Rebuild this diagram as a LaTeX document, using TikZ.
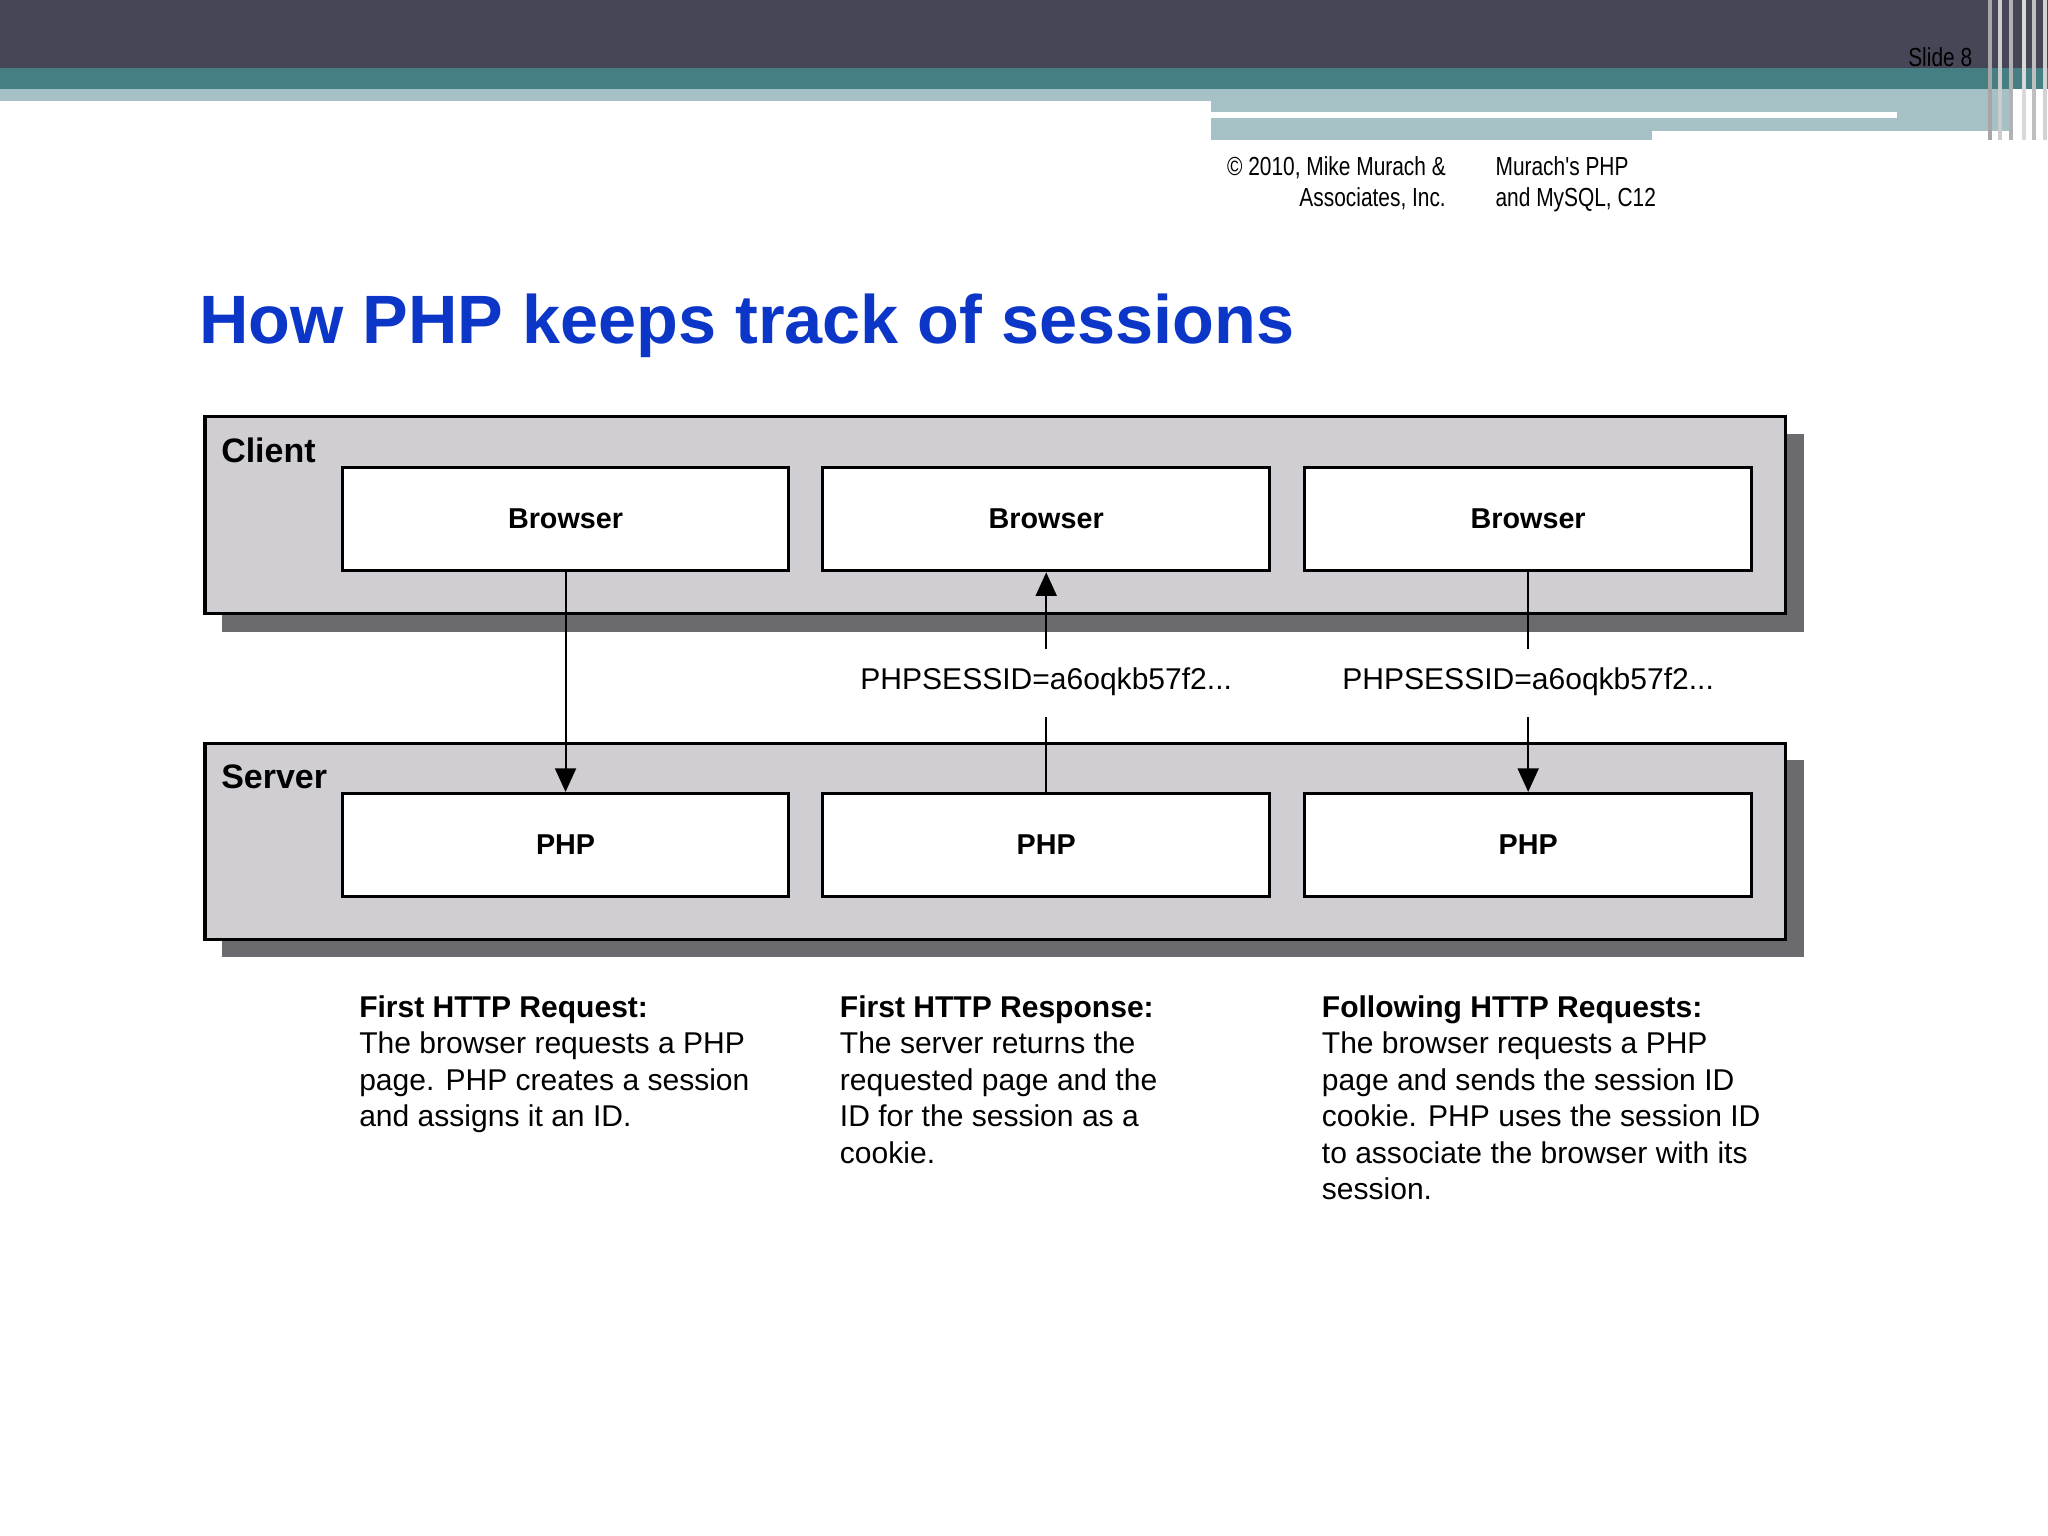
\documentclass[tikz,border=0pt]{standalone}
\usepackage{fontspec}
\setmainfont{Liberation Sans}
\newfontfamily\narrowf[FakeStretch=0.8]{Liberation Sans}
\usetikzlibrary{arrows.meta}
\definecolor{darkband}{HTML}{474657}
\definecolor{tealband}{HTML}{457F84}
\definecolor{lightband}{HTML}{A5C1C5}
\definecolor{panel}{HTML}{D0CED3}
\definecolor{shadowgray}{HTML}{6B6A6E}
\definecolor{titleblue}{HTML}{0B36C8}
\tikzset{
 panelbox/.style={draw=black,line width=1.2pt,fill=panel},
 wbox/.style={draw=black,line width=1.2pt,fill=white,minimum width=171pt,minimum height=39.5pt,font=\fontsize{11}{13}\selectfont\bfseries},
 conn/.style={line width=0.8pt},
 arr/.style={conn,-{Triangle[length=9pt,width=8pt]}},
 lab/.style={font=\fontsize{11.5}{13}\selectfont},
 desc/.style={anchor=north west,align=left,font=\fontsize{11.5}{14}\selectfont},
}
\begin{document}
\begin{tikzpicture}[x=0.5pt,y=-0.5pt]
\useasboundingbox (0,0) rectangle (1568,1176);
% header bands
\fill[darkband] (0,0) rectangle (1568,52);
\fill[tealband] (0,52) rectangle (1568,68);
\fill[lightband] (0,68) rectangle (927,77);
\fill[lightband] (927,68) rectangle (1540,107);
\fill[white] (927,86) rectangle (1452,90);
\fill[white] (1265,100) rectangle (1540,107);
\foreach \x/\c in {1522/gray!70,1530/gray!40,1538/gray!60,1548/gray!30,1556/gray!50,1564/gray!35}
  \fill[\c] (\x,0) rectangle ++(3,107);
\node[anchor=east,font=\narrowf\fontsize{10}{12}\selectfont] (slide) at (1517,44) {Slide 8};
\node[anchor=north east,align=right,font=\narrowf\fontsize{10}{11.7}\selectfont] (copy) at (1114,113) {© 2010, Mike Murach \&\\Associates, Inc.};
\node[anchor=north west,align=left,font=\narrowf\fontsize{10}{11.7}\selectfont] (book) at (1138,113) {Murach's PHP\\and MySQL, C12};
% title
\node[anchor=base west,inner sep=0,text=titleblue,font=\fontsize{26.2}{30}\selectfont\bfseries] (title) at (152,263) {How PHP keeps track of sessions};
% panels
\fill[shadowgray] (170,332) rectangle (1381,484);
\draw[panelbox] (157,319) rectangle (1367,470);
\fill[shadowgray] (170,582) rectangle (1381,733);
\draw[panelbox] (157,569) rectangle (1367,719);
\node[anchor=base west,inner sep=0,font=\fontsize{13}{15}\selectfont\bfseries] (client) at (169,354) {Client};
\node[anchor=base west,inner sep=0,font=\fontsize{13}{15}\selectfont\bfseries] (server) at (169,604) {Server};
% boxes
\node[wbox] (b1) at (433,397.5) {Browser};
\node[wbox] (b2) at (801,397.5) {Browser};
\node[wbox] (b3) at (1170,397.5) {Browser};
\node[wbox] (p1) at (433,647) {PHP};
\node[wbox] (p2) at (801,647) {PHP};
\node[wbox] (p3) at (1170,647) {PHP};
% labels
\node[lab,inner sep=2pt] (s2) at (801,522) {PHPSESSID=a6oqkb57f2...};
\node[lab,inner sep=2pt] (s3) at (1170,522) {PHPSESSID=a6oqkb57f2...};
% connectors
\draw[arr] (b1.south) -- (p1.north);
\draw[conn] (p2.north) -- (801,549);
\draw[arr] (801,497) -- (b2.south);
\draw[conn] (b3.south) -- (1170,497);
\draw[arr] (1170,549) -- (p3.north);
% descriptions
\node[desc] (d1) at (268,755) {\textbf{First HTTP Request:}\\The browser requests a PHP\\page. PHP creates a session\\and assigns it an ID.};
\node[desc] (d2) at (636,755) {\textbf{First HTTP Response:}\\The server returns the\\requested page and the\\ID for the session as a\\cookie.};
\node[desc] (d3) at (1005,755) {\textbf{Following HTTP Requests:}\\The browser requests a PHP\\page and sends the session ID\\cookie. PHP uses the session ID\\to associate the browser with its\\session.};
\end{tikzpicture}
\end{document}
